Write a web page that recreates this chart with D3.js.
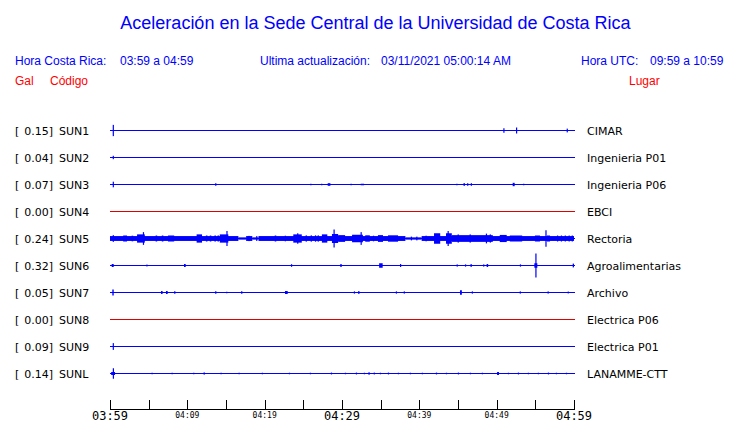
<!DOCTYPE html>
<html><head><meta charset="utf-8">
<script src="https://cdn.jsdelivr.net/npm/d3@7"></script>
<style>html,body{margin:0;padding:0;background:#fff;overflow:hidden}</style>
</head><body><svg id="c" width="740" height="423"></svg>
<script>
// ---------- DATA ----------
const title = "Aceleración en la Sede Central de la Universidad de Costa Rica";
const horaCR = "03:59 a 04:59";
const horaUTC = "09:59 a 10:59";
const ultima = "03/11/2021 05:00:14 AM";
const codes = ["SUN1","SUN2","SUN3","SUN4","SUN5","SUN6","SUN7","SUN8","SUN9","SUNL"];
const peaks = [0.15,0.04,0.07,0.00,0.24,0.32,0.05,0.00,0.09,0.14];
const places = ["CIMAR","Ingenieria P01","Ingenieria P06","EBCI","Rectoria","Agroalimentarias","Archivo","Electrica P06","Electrica P01","LANAMME-CTT"];
const majorTicks = ["03:59","04:09","04:19","04:29","04:39","04:49","04:59"]; // every 10 min
const minuteSpan = [0, 60];
// events per station: [start minute, end minute, amplitude (gal)]
const sun1 = [[0.35,0.45,0.15],[50.86,50.9,0.06],[52.5,52.56,0.08],[59.05,59.1,0.05]];
const sun2 = [[0.35,0.45,0.045]];
const sun3 = [[0.35,0.45,0.075],[13.6,13.65,0.035],[25.9,25.95,0.02],[27.3,27.35,0.02],[28.15,28.5,0.035],
  [31.1,31.15,0.02],[32.42,32.85,0.02],[44.78,44.82,0.02],[45.72,45.78,0.04],[46.18,46.22,0.035],
  [46.65,46.7,0.035],[52.07,52.33,0.045],[53.42,53.46,0.02]];
const sun4 = [];
const sun5 = [[0,16.6,0.065],[16.6,17.6,0.03],[17.6,18.4,0.065],[18.4,19.2,0.03],[19.2,38.2,0.065],
  [38.2,40.3,0.03],[40.3,60,0.065],
  [0.35,0.5,0.09],[1.7,2.2,0.08],[2.8,3.0,0.075],[3.5,4.5,0.11],[4.25,4.4,0.17],
  [5.9,6.1,0.08],[6.7,6.9,0.08],[7.5,8.3,0.08],[11.2,11.9,0.11],
  [12.4,12.6,0.08],[12.9,13.1,0.08],[13.5,13.7,0.08],[13.9,14.1,0.08],
  [14.2,15.3,0.11],[15.05,15.2,0.2],[17.9,18.0,0.07],[18.9,19.0,0.065],[21.3,21.5,0.08],[22.6,22.7,0.075],
  [23.7,24.8,0.11],[24.2,24.35,0.14],[25.3,25.45,0.085],[25.95,26.1,0.085],[26.5,26.65,0.085],[26.85,27.0,0.085],
  [27.4,28.1,0.11],[28.7,29.5,0.12],[28.9,29.05,0.24],[29.5,30.4,0.09],
  [31.3,32.7,0.1],[32.4,32.55,0.17],[33.0,33.6,0.085],[34.0,34.1,0.075],[34.65,35.3,0.09],[35.95,37.25,0.085],
  [38.9,39.0,0.05],[39.6,39.7,0.05],[40.8,40.9,0.075],
  [41.9,42.7,0.14],[43.45,44.2,0.14],[43.65,43.8,0.2],[44.2,49.5,0.09],[44.95,45.1,0.11],
  [46.5,46.65,0.11],[48.6,48.75,0.13],[49.1,49.2,0.11],[50.4,51.3,0.095],[51.7,53.3,0.08],
  [54.95,55.6,0.08],[56.3,56.45,0.22],[56.5,56.9,0.08],
  [57.8,57.95,0.08],[58.3,58.45,0.08],[58.8,58.95,0.08],[59.3,59.45,0.08],[59.7,59.85,0.08]];
const sun6 = [[0.22,0.48,0.04],[4.7,4.74,0.025],[9.57,9.79,0.04],[23.4,23.44,0.035],[29.78,29.96,0.04],
  [34.8,35.26,0.06],[37.5,37.55,0.04],[44.82,44.86,0.03],[45.9,45.94,0.03],[46.62,46.66,0.04],
  [48.25,48.29,0.03],[48.7,48.9,0.04],[53.0,53.04,0.03],[54.87,55.26,0.06],[55.0,55.1,0.32],[59.83,60,0.05]];
const sun7 = [[0.3,0.48,0.08],[6.6,6.8,0.04],[7.24,7.46,0.04],[8.3,8.34,0.035],[13.6,13.64,0.035],
  [15.02,15.06,0.02],[16.96,17.0,0.035],[22.63,22.98,0.04],[31.53,31.57,0.03],[32.1,32.16,0.04],
  [36.96,37.0,0.03],[37.98,38.02,0.03],[45.26,45.5,0.06],[46.78,46.82,0.03],[52.98,53.02,0.03],
  [56.58,56.62,0.03],[59.18,59.22,0.025]];
const sun8 = [];
const sun9 = [[0.35,0.45,0.09]];
const sunl = [[0.15,0.65,0.04],[0.36,0.44,0.14],[5.37,5.41,0.02],[7.96,8.0,0.02],[10.75,10.79,0.02],
  [12.1,12.26,0.03],[14.29,14.33,0.02],[16.62,16.66,0.02],[19.63,19.67,0.02],[23.13,23.17,0.02],
  [25.84,25.88,0.02],[28.56,28.6,0.025],[30.37,30.41,0.02],[31.79,31.83,0.025],[32.82,32.86,0.02],
  [33.4,33.6,0.03],[34.1,34.2,0.025],[34.89,34.93,0.02],[35.93,35.97,0.025],[37.22,37.26,0.02],
  [38.77,38.81,0.02],[40.32,40.36,0.02],[42.14,42.18,0.025],[43.43,43.47,0.02],[44.98,45.02,0.025],
  [46.53,46.57,0.02],[48.08,48.12,0.02],[50.05,50.3,0.04],[51.45,51.49,0.02],[52.74,52.78,0.025],
  [54.03,54.07,0.02],[55.32,55.36,0.02],[56.62,56.66,0.025],[57.65,57.69,0.02],[58.95,58.99,0.02]];
const events = [sun1,sun2,sun3,sun4,sun5,sun6,sun7,sun8,sun9,sunl];
const lineColors = ["#0000ff","#0000ff","#0000ff","#e00000","#0000ff","#0000ff","#0000ff","#e00000","#0000ff","#0000ff"];

// ---------- CHART ----------
const svg = d3.select("#c");
const blue = "#0000ff", red = "#ff0000";
const x = d3.scaleLinear().domain(minuteSpan).range([110, 574]);
const y = d3.scalePoint().domain(codes).range([130.5, 373.5]);
const amp = d3.scaleLinear().domain([0, 0.32]).range([0, 12]);

svg.append("text").attr("x", 375.5).attr("y", 29).attr("text-anchor","middle")
  .attr("font-family","Liberation Sans, Arial, sans-serif").attr("font-size",18).attr("fill",blue).text(title);

const hdr = (t, xx, yy, col) => svg.append("text").attr("x", xx).attr("y", yy)
  .attr("font-family","Liberation Sans, Arial, sans-serif").attr("font-size",12).attr("fill",col).text(t);
hdr("Hora Costa Rica:", 15, 65, blue);
hdr(horaCR, 120, 65, blue);
hdr("Ultima actualización:", 260, 65, blue);
hdr(ultima, 381, 65, blue);
hdr("Hora UTC:", 581, 65, blue);
hdr(horaUTC, 650, 65, blue);
hdr("Gal", 15, 85, red);
hdr("Código", 50, 85, red);
hdr("Lugar", 629, 85, red);

const rows = svg.append("g");
codes.forEach((c, i) => {
  const yy = y(c);
  const g = rows.append("g");
  const lab = g.append("text").attr("y", yy + 4).attr("font-family","DejaVu Sans, sans-serif")
    .attr("font-size", 11).attr("fill","#000");
  lab.append("tspan").attr("x", 15).text("[");
  lab.append("tspan").attr("x", 53).attr("text-anchor","end").text(peaks[i].toFixed(2) + "]");
  g.append("text").attr("x", 59).attr("y", yy + 4).attr("font-family","DejaVu Sans, sans-serif")
    .attr("font-size", 11).attr("fill","#000").text(c);
  g.append("text").attr("x", 587).attr("y", yy + 4).attr("font-family","DejaVu Sans, sans-serif")
    .attr("font-size", 11).attr("fill","#000").text(places[i]);
  g.append("line").attr("x1", x(minuteSpan[0])).attr("x2", x(minuteSpan[1]) + 1)
    .attr("y1", yy).attr("y2", yy).attr("stroke", lineColors[i]).attr("stroke-width", 1.2);
  g.selectAll("rect").data(events[i]).join("rect")
    .attr("x", d => x(d[0]))
    .attr("width", d => Math.max(1.2, x(d[1]) - x(d[0])))
    .attr("y", d => yy - amp(d[2]))
    .attr("height", d => Math.max(1.2, 2 * amp(d[2])))
    .attr("fill", lineColors[i]);
});

// time axis
const axisY = 409;
const ax = svg.append("g");
ax.append("line").attr("x1", x(0)).attr("x2", x(60)).attr("y1", axisY + 0.5).attr("y2", axisY + 0.5)
  .attr("stroke","#000").attr("stroke-width",1);
const tickMin = d3.range(0, 61, 5);
ax.selectAll("line.t").data(tickMin).join("line").attr("class","t")
  .attr("x1", d => Math.round(x(d)) + 0.5).attr("x2", d => Math.round(x(d)) + 0.5)
  .attr("y1", axisY - 9).attr("y2", axisY + 1).attr("stroke","#000").attr("stroke-width",1);
ax.selectAll("text").data(majorTicks).join("text")
  .attr("x", (d, i) => x(i * 10))
  .attr("y", (d, i) => (i % 3 === 0) ? 420 : 417.5)
  .attr("text-anchor","middle")
  .attr("font-family","DejaVu Sans Mono, monospace")
  .attr("font-size", (d, i) => (i % 3 === 0) ? 12 : 8)
  .attr("fill","#000").text(d => d);
</script></body></html>
